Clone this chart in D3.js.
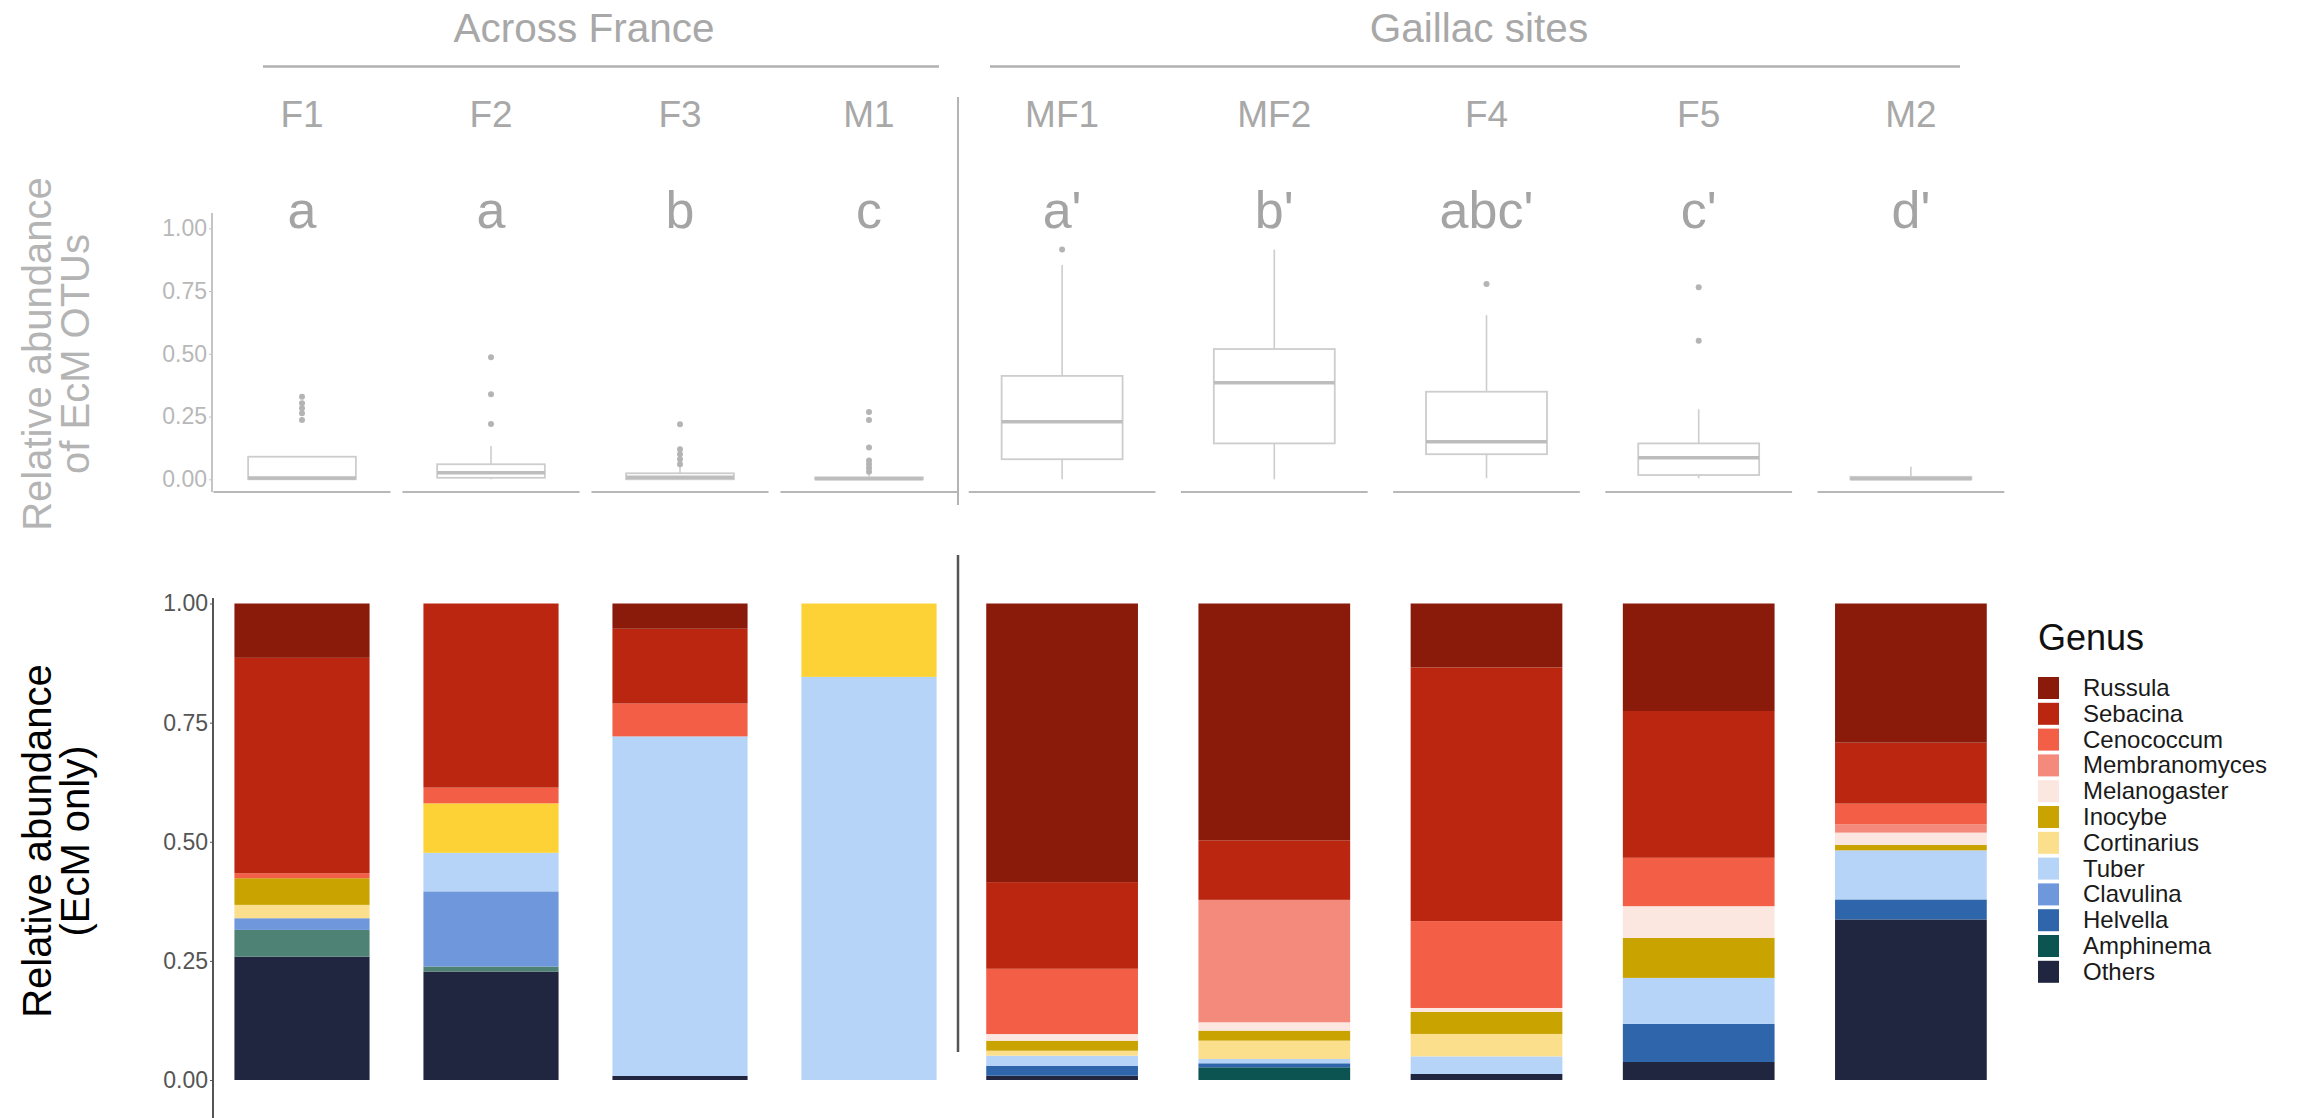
<!DOCTYPE html>
<html>
<head>
<meta charset="utf-8">
<script src="https://cdn.jsdelivr.net/npm/d3@7"></script>
<style>
  html, body { margin: 0; padding: 0; background: #fff; }
  svg { display: block; }
</style>
</head>
<body>
<svg id="chart" width="2316" height="1118"></svg>
<script>
// ---- Sites, grouped in two facet blocks ----
const sitesFrance = ["F1", "F2", "F3", "M1"];
const sitesGaillac = ["MF1", "MF2", "F4", "F5", "M2"];
const sites = sitesFrance.concat(sitesGaillac);
const groupTitles = ["Across France", "Gaillac sites"];
const groupLetters = ["a", "a", "b", "c", "a'", "b'", "abc'", "c'", "d'"];
const yTickValues = [0, 0.25, 0.5, 0.75, 1];

// ---- Boxplot summaries: relative abundance of EcM OTUs per site ----
const boxQ1     = [0.000, 0.006, 0.000, 0.000, 0.080, 0.143, 0.100, 0.017, 0.000];
const boxMedian = [0.005, 0.026, 0.008, 0.002, 0.229, 0.385, 0.150, 0.086, 0.002];
const boxQ3     = [0.090, 0.060, 0.024, 0.008, 0.412, 0.519, 0.349, 0.143, 0.010];
const whiskerLow  = [0.000, 0.000, 0.000, 0.000, 0.000, 0.000, 0.004, 0.004, 0.000];
const whiskerHigh = [0.090, 0.133, 0.050, 0.020, 0.854, 0.915, 0.654, 0.279, 0.050];
const outliers = [
  [0.329, 0.303, 0.283, 0.263, 0.236],
  [0.486, 0.339, 0.220],
  [0.219, 0.120, 0.100, 0.080, 0.060],
  [0.268, 0.236, 0.127, 0.075, 0.060, 0.045, 0.030],
  [0.916],
  [],
  [0.778],
  [0.765, 0.552],
  []
];

// ---- Genus composition (EcM only), one array per genus across sites ----
const legendGenera = ["Russula", "Sebacina", "Cenococcum", "Membranomyces", "Melanogaster",
  "Inocybe", "Cortinarius", "Tuber", "Clavulina", "Helvella", "Amphinema", "Others"];
const legendColors = ["#8a1a09", "#bb2610", "#f25e46", "#f48a7b", "#fce6e0",
  "#c9a300", "#fbdf8c", "#b6d3f8", "#6e97dc", "#2f66ab", "#0b5452", "#20263f"];
// two minor genera present in the bars but not listed in the key
const unlistedGenera = ["Unlisted A", "Unlisted B"];
const unlistedColors = ["#fdd236", "#4e8275"];

const russula       = [0.114, 0.000, 0.053, 0.000, 0.585, 0.497, 0.134, 0.2255, 0.292];
const sebacina      = [0.452, 0.387, 0.157, 0.000, 0.182, 0.125, 0.532, 0.308, 0.128];
const cenococcum    = [0.0105, 0.033, 0.069, 0.000, 0.137, 0.000, 0.182, 0.1015, 0.0434];
const membranomyces = [0.000, 0.000, 0.000, 0.000, 0.000, 0.257, 0.000, 0.000, 0.0175];
const melanogaster  = [0.000, 0.000, 0.000, 0.000, 0.014, 0.0175, 0.0084, 0.0665, 0.026];
const inocybe       = [0.056, 0.000, 0.000, 0.000, 0.021, 0.021, 0.046, 0.084, 0.0112];
const cortinarius   = [0.028, 0.000, 0.000, 0.000, 0.0105, 0.0385, 0.047, 0.000, 0.000];
const unlistedA     = [0.000, 0.104, 0.000, 0.154, 0.000, 0.000, 0.000, 0.000, 0.000];
const tuber         = [0.000, 0.081, 0.713, 0.846, 0.021, 0.009, 0.037, 0.0966, 0.103];
const clavulina     = [0.0245, 0.158, 0.000, 0.000, 0.000, 0.000, 0.000, 0.000, 0.000];
const helvella      = [0.000, 0.000, 0.000, 0.000, 0.021, 0.0085, 0.000, 0.0798, 0.042];
const amphinema     = [0.000, 0.000, 0.000, 0.000, 0.000, 0.0266, 0.000, 0.000, 0.000];
const unlistedB     = [0.056, 0.0105, 0.000, 0.000, 0.000, 0.000, 0.000, 0.000, 0.000];
const others        = [0.259, 0.228, 0.0084, 0.000, 0.009, 0.000, 0.0126, 0.0378, 0.337];

// stacking order, bottom to top
const stackKeys = ["Others", "Unlisted B", "Amphinema", "Helvella", "Clavulina", "Tuber",
  "Unlisted A", "Cortinarius", "Inocybe", "Melanogaster", "Membranomyces", "Cenococcum",
  "Sebacina", "Russula"];
const seriesByKey = {
  "Russula": russula, "Sebacina": sebacina, "Cenococcum": cenococcum,
  "Membranomyces": membranomyces, "Melanogaster": melanogaster, "Inocybe": inocybe,
  "Cortinarius": cortinarius, "Unlisted A": unlistedA, "Tuber": tuber,
  "Clavulina": clavulina, "Helvella": helvella, "Amphinema": amphinema,
  "Unlisted B": unlistedB, "Others": others
};

const color = d3.scaleOrdinal()
  .domain(legendGenera.concat(unlistedGenera))
  .range(legendColors.concat(unlistedColors));

// ---- Layout ----
const svg = d3.select("#chart");
const sans = "'Liberation Sans',Arial,Helvetica,sans-serif";

const xFrance = d3.scaleBand().domain(sitesFrance).range([207.5, 963.5]);
const xGaillac = d3.scaleBand().domain(sitesGaillac).range([956, 2017]);
const groupOf = s => sitesFrance.includes(s) ? 0 : 1;
const xScaleOf = s => groupOf(s) === 0 ? xFrance : xGaillac;
const cx = s => xScaleOf(s)(s) + xScaleOf(s).bandwidth() / 2;
const step = s => xScaleOf(s).bandwidth();
const panelFrac = [0.937, 0.88];

const yTop = d3.scaleLinear().domain([0, 1]).range([479.3, 228.3]);
const yBot = d3.scaleLinear().domain([0, 1]).range([1080, 603.5]);

const grey = "#a8a8a8";

// ---- Group headers ----
const headers = [
  { title: groupTitles[0], tx: 584, x1: 263, x2: 939 },
  { title: groupTitles[1], tx: 1479, x1: 990, x2: 1960 }
];
svg.selectAll("text.header").data(headers).join("text")
  .attr("class", "header")
  .attr("x", d => d.tx).attr("y", 42)
  .attr("text-anchor", "middle")
  .attr("font-family", sans).attr("font-size", 40.5)
  .attr("fill", grey).text(d => d.title);
svg.selectAll("line.header").data(headers).join("line")
  .attr("class", "header")
  .attr("x1", d => d.x1).attr("x2", d => d.x2)
  .attr("y1", 66.5).attr("y2", 66.5)
  .attr("stroke", "#b0b0b0").attr("stroke-width", 2.5);

// ---- Facet labels and significance letters ----
svg.selectAll("text.facet").data(sites).join("text")
  .attr("class", "facet")
  .attr("x", d => cx(d)).attr("y", 127)
  .attr("text-anchor", "middle")
  .attr("font-family", sans).attr("font-size", 37)
  .attr("fill", grey).text(d => d);

svg.selectAll("text.letter").data(sites).join("text")
  .attr("class", "letter")
  .attr("x", d => cx(d)).attr("y", 228)
  .attr("text-anchor", "middle")
  .attr("font-family", sans).attr("font-size", 52)
  .attr("fill", "#a4a4a4").text((d, i) => groupLetters[i]);

// ---- Separator between the two blocks ----
svg.append("line").attr("x1", 958).attr("x2", 958).attr("y1", 97).attr("y2", 505)
  .attr("stroke", "#b4b4b4").attr("stroke-width", 2);
svg.append("line").attr("x1", 958).attr("x2", 958).attr("y1", 555).attr("y2", 1052)
  .attr("stroke", "#555").attr("stroke-width", 2.5);

// ---- Top panel: boxplots ----
const topAxis = svg.append("g").attr("transform", "translate(212,0)")
  .call(d3.axisLeft(yTop).tickValues(yTickValues).tickFormat(d3.format(".2f"))
    .tickSize(3).tickPadding(2));
topAxis.select(".domain").remove();
topAxis.selectAll(".tick line").attr("stroke", "#c4c4c4");
topAxis.selectAll(".tick text").attr("font-family", sans).attr("font-size", 23)
  .attr("fill", "#b8b8b8");
svg.append("line").attr("x1", 212).attr("x2", 212).attr("y1", 213).attr("y2", 492)
  .attr("stroke", "#c4c4c4").attr("stroke-width", 2);

// facet baselines
svg.selectAll("line.base").data(sites).join("line")
  .attr("class", "base")
  .attr("x1", d => cx(d) - step(d) * panelFrac[groupOf(d)] / 2)
  .attr("x2", d => cx(d) + step(d) * panelFrac[groupOf(d)] / 2)
  .attr("y1", 492).attr("y2", 492)
  .attr("stroke", "#b8b8b8").attr("stroke-width", 2.2);

const boxData = sites.map((s, i) => ({
  site: s, q1: boxQ1[i], med: boxMedian[i], q3: boxQ3[i],
  lo: whiskerLow[i], hi: whiskerHigh[i], out: outliers[i]
}));
const boxW = s => step(s) * 0.57;
const boxStroke = "#cdcdcd";
const boxes = svg.selectAll("g.box").data(boxData).join("g").attr("class", "box");
boxes.append("line")
  .attr("x1", d => cx(d.site)).attr("x2", d => cx(d.site))
  .attr("y1", d => yTop(d.q3)).attr("y2", d => yTop(d.hi))
  .attr("stroke", boxStroke).attr("stroke-width", 1.6);
boxes.append("line")
  .attr("x1", d => cx(d.site)).attr("x2", d => cx(d.site))
  .attr("y1", d => yTop(d.q1)).attr("y2", d => yTop(d.lo))
  .attr("stroke", boxStroke).attr("stroke-width", 1.6);
boxes.append("rect")
  .attr("x", d => cx(d.site) - boxW(d.site) / 2).attr("width", d => boxW(d.site))
  .attr("y", d => yTop(d.q3)).attr("height", d => Math.max(1, yTop(d.q1) - yTop(d.q3)))
  .attr("fill", "#fff").attr("stroke", boxStroke).attr("stroke-width", 1.8);
boxes.append("line")
  .attr("x1", d => cx(d.site) - boxW(d.site) / 2).attr("x2", d => cx(d.site) + boxW(d.site) / 2)
  .attr("y1", d => yTop(d.med)).attr("y2", d => yTop(d.med))
  .attr("stroke", "#bdbdbd").attr("stroke-width", 3.5);
boxes.selectAll("circle").data(d => d.out.map(v => ({ site: d.site, v }))).join("circle")
  .attr("cx", d => cx(d.site)).attr("cy", d => yTop(d.v)).attr("r", 3)
  .attr("fill", "#b4b4b4");

// ---- Bottom panel: stacked composition bars ----
const rows = sites.map((s, i) => {
  const r = { site: s };
  stackKeys.forEach(k => { r[k] = seriesByKey[k][i]; });
  return r;
});
const stacked = d3.stack().keys(stackKeys).offset(d3.stackOffsetExpand)(rows);
const barW = s => step(s) * 0.715;

svg.append("g").selectAll("g").data(stacked).join("g")
  .attr("fill", d => color(d.key))
  .selectAll("rect").data(d => d).join("rect")
  .attr("x", d => cx(d.data.site) - barW(d.data.site) / 2)
  .attr("width", d => barW(d.data.site))
  .attr("y", d => yBot(d[1]))
  .attr("height", d => Math.max(0, yBot(d[0]) - yBot(d[1])));

const botAxis = svg.append("g").attr("transform", "translate(213,0)")
  .call(d3.axisLeft(yBot).tickValues(yTickValues).tickFormat(d3.format(".2f"))
    .tickSize(3).tickPadding(2));
botAxis.select(".domain").remove();
botAxis.selectAll(".tick line").attr("stroke", "#555");
botAxis.selectAll(".tick text").attr("font-family", sans).attr("font-size", 23)
  .attr("fill", "#555");
svg.append("line").attr("x1", 213).attr("x2", 213).attr("y1", 598).attr("y2", 1118)
  .attr("stroke", "#555").attr("stroke-width", 2);

// ---- Axis titles ----
function axisTitle(lines, cy, fill) {
  const t = svg.append("text")
    .attr("transform", `translate(51,${cy}) rotate(-90)`)
    .attr("text-anchor", "middle")
    .attr("font-family", sans).attr("font-size", 40).attr("fill", fill);
  lines.forEach((l, i) => t.append("tspan").attr("x", 0).attr("dy", i === 0 ? 0 : 38).text(l));
}
axisTitle(["Relative abundance", "of EcM OTUs"], 354, "#b4b4b4");
axisTitle(["Relative abundance", "(EcM only)"], 841, "#000");

// ---- Legend ----
const legend = svg.append("g").attr("transform", "translate(2038,0)");
legend.append("text").attr("x", 0).attr("y", 650)
  .attr("font-family", sans).attr("font-size", 36).attr("fill", "#111").text("Genus");
const items = legend.selectAll("g.item").data(legendGenera).join("g")
  .attr("class", "item")
  .attr("transform", (d, i) => `translate(0,${677 + i * 25.8})`);
items.append("rect").attr("width", 21).attr("height", 22).attr("fill", d => color(d));
items.append("text").attr("x", 45).attr("y", 19)
  .attr("font-family", sans).attr("font-size", 24).attr("fill", "#1a1a1a").text(d => d);
</script>
</body>
</html>
